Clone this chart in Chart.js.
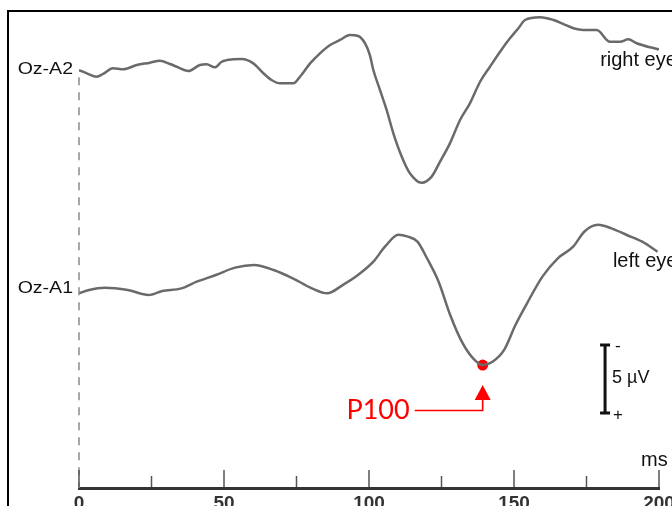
<!DOCTYPE html>
<html><head><meta charset="utf-8">
<script src="https://cdn.jsdelivr.net/npm/chart.js@4.4.0/dist/chart.umd.min.js"></script>
<style>
html,body{margin:0;padding:0;background:#fff;overflow:hidden}
#wrap{position:relative;width:672px;height:506px;overflow:hidden}
#frame{position:absolute;left:7px;top:10px;width:700px;height:520px;border-left:2px solid #000;border-top:2px solid #000;pointer-events:none}
canvas{position:absolute;left:0;top:0}
</style></head><body>
<div id="wrap"><div id="frame"></div><canvas id="c" width="672" height="506"></canvas></div>
<script>
// time axis (ms)
const timeTicks = [0,25,50,75,100,125,150,175,200];
const timeLabels = [0,50,100,150,200];
// Oz-A2 (right eye), µV, negative up
const topTime = [0,2.7,6.1,8.3,11.7,15.2,19.9,24.5,27.9,31.4,33.7,37.7,41.7,44,46.9,49.2,53.2,56.1,60.1,63.6,66.4,69.3,73.9,76.2,79.7,83.1,86.6,90,93.4,96.3,98.6,100.3,101.5,103.8,106.1,108.4,111.3,114.1,118.2,121.6,124.5,127.9,131.4,134.8,138.3,141.7,145.2,148.6,151.5,153.8,159,163.6,167.1,170.5,173.9,178.5,183.1,186.6,189.4,192.3,196.9,200];
const topValues = [-0.16,0.08,0.33,0.13,-0.29,-0.21,-0.53,-0.70,-0.85,-0.60,-0.40,-0.09,-0.53,-0.58,-0.36,-0.77,-0.95,-0.97,-0.65,0.08,0.57,0.82,0.82,0.33,-0.65,-1.39,-2.0,-2.37,-2.74,-2.66,-2.13,-1.26,-0.16,1.31,2.79,4.49,6.21,7.43,8.13,7.68,6.58,5.23,3.51,2.29,0.70,-0.40,-1.51,-2.49,-3.23,-3.84,-4.04,-3.84,-3.54,-3.23,-3.10,-3.10,-2.24,-2.24,-2.42,-2.13,-1.83,-1.68];
// Oz-A1 (left eye)
const bottomTime = [0,3.5,8.8,16.8,24,28.7,35.3,40.6,47.2,53.8,60.4,67.1,73.7,80.3,85.6,90.9,96.2,101.5,105.5,110.1,113.4,116.7,120,124,128,132,135.9,139.2,142.6,146.6,150.5,154.5,159.8,165.1,170.4,174.3,179,183.6,188.9,194.2,199.5];
const bottomValues = [0.10,-0.15,-0.32,-0.15,0.22,-0.07,-0.27,-0.76,-1.25,-1.79,-1.99,-1.62,-1.01,-0.27,0.10,-0.51,-1.25,-2.23,-3.33,-4.21,-4.07,-3.70,-2.48,-0.76,1.69,3.65,4.88,5.37,5.13,4.26,2.43,0.83,-1.13,-2.48,-3.33,-4.45,-4.94,-4.68,-4.19,-3.70,-2.96];
const channelLabels = ['Oz-A2','Oz-A1'];
const eyeLabels = ['right eye','left eye'];
const channelOffsets = [0, 16.16];
const p100Time = [139.2];
const p100Value = [5.37];
const scaleBarTop = 20.06;
const scaleBarSize = 5;

const traceColor = '#6a6a6a';
const mk = (ts, vs, off) => ts.map((t,i)=>({x:t, y:vs[i]+off}));

const overlay = {
  id:'overlay',
  afterDraw(chart){
    const ctx = chart.ctx, xs = chart.scales.x, ys = chart.scales.y, ca = chart.chartArea;
    ctx.save();
    // dashed zero line
    const x0 = xs.getPixelForValue(0);
    ctx.strokeStyle = '#8a8a8a'; ctx.lineWidth = 1.5; ctx.setLineDash([8,7]);
    ctx.beginPath(); ctx.moveTo(x0, ys.getPixelForValue(channelOffsets[0]) + 5); ctx.lineTo(x0, ca.bottom); ctx.stroke();
    ctx.setLineDash([]);
    // inward ticks
    ctx.strokeStyle = '#555'; ctx.lineWidth = 1.5;
    timeTicks.forEach(t=>{
      const x = xs.getPixelForValue(t);
      const len = (t % 50 === 0) ? 18 : 12;
      ctx.beginPath(); ctx.moveTo(x, ca.bottom - 1); ctx.lineTo(x, ca.bottom - len); ctx.stroke();
    });
    // channel labels
    ctx.fillStyle = '#111';
    ctx.font = '16px "Liberation Sans", Arial, sans-serif';
    ctx.textAlign = 'right'; ctx.textBaseline = 'middle';
    channelLabels.forEach((lab,i)=>{
      const y = ys.getPixelForValue(channelOffsets[i]) - 3;
      ctx.save(); ctx.translate(x0 - 6, y); ctx.scale(1.22, 1); ctx.fillText(lab, 0, 0); ctx.restore();
    });
    // eye labels
    ctx.font = '20px "Liberation Sans", Arial, sans-serif';
    ctx.textAlign = 'left'; ctx.textBaseline = 'alphabetic';
    ctx.fillText(eyeLabels[0], xs.getPixelForValue(179.7), ys.getPixelForValue(channelOffsets[0]) - 6);
    ctx.fillText(eyeLabels[1], xs.getPixelForValue(184.1), ys.getPixelForValue(channelOffsets[1]) - 25);
    // ms unit
    ctx.font = '20px "Liberation Sans", Arial, sans-serif';
    ctx.fillText('ms', xs.getPixelForValue(193.8), ca.bottom - 22);
    // scale bar
    const sx = xs.getPixelForValue(181.4);
    const sy1 = ys.getPixelForValue(scaleBarTop), sy2 = ys.getPixelForValue(scaleBarTop + scaleBarSize);
    ctx.strokeStyle = '#111'; ctx.lineWidth = 3;
    ctx.beginPath(); ctx.moveTo(sx, sy1); ctx.lineTo(sx, sy2);
    ctx.moveTo(sx - 5, sy1); ctx.lineTo(sx + 5, sy1);
    ctx.moveTo(sx - 5, sy2); ctx.lineTo(sx + 5, sy2); ctx.stroke();
    ctx.font = '17px "Liberation Sans", Arial, sans-serif';
    ctx.textBaseline = 'middle';
    ctx.fillText('-', sx + 10, sy1 + 1);
    ctx.fillText('+', sx + 8, sy2 + 2);
    ctx.font = '18px "Liberation Sans", Arial, sans-serif';
    ctx.fillText('5 \u00B5V', sx + 7, (sy1 + sy2) / 2 - 1);
    // P100 arrow
    const px = xs.getPixelForValue(p100Time[0]), py = ys.getPixelForValue(p100Value[0] + channelOffsets[1]);
    ctx.fillStyle = '#ff0000'; ctx.strokeStyle = '#ff0000'; ctx.lineWidth = 1.6;
    ctx.beginPath(); ctx.moveTo(px, py + 20); ctx.lineTo(px - 8, py + 35); ctx.lineTo(px + 8, py + 35); ctx.closePath(); ctx.fill();
    ctx.beginPath(); ctx.moveTo(px, py + 34); ctx.lineTo(px, py + 45.5); ctx.lineTo(px - 68, py + 45.5); ctx.stroke();
    ctx.font = '27px Lato, "Liberation Sans", sans-serif';
    ctx.textAlign = 'right'; ctx.textBaseline = 'middle';
    ctx.fillText('P100', px - 73, py + 45);
    ctx.restore();
  }
};

new Chart(document.getElementById('c'), {
  type:'line',
  data:{datasets:[
    {data:mk(topTime, topValues, channelOffsets[0]), borderColor:traceColor, borderWidth:2.5, pointRadius:0, cubicInterpolationMode:'monotone', fill:false},
    {data:mk(bottomTime, bottomValues, channelOffsets[1]), borderColor:traceColor, borderWidth:2.5, pointRadius:0, cubicInterpolationMode:'monotone', fill:false},
    {data:mk(p100Time, p100Value, channelOffsets[1]), showLine:false, pointRadius:5.5, pointBackgroundColor:'#ff0000', pointBorderWidth:0, borderColor:'#ff0000'}
  ]},
  options:{
    responsive:false, animation:false, events:[],
    plugins:{legend:{display:false}, tooltip:{enabled:false}},
    layout:{padding:{left:79, right:13, top:11, bottom:0}},
    scales:{
      x:{type:'linear', min:0, max:200,
        ticks:{stepSize:50, color:'#333', font:{family:'"Liberation Sans", Arial, sans-serif', size:19, weight:'bold'}, padding:4, maxRotation:0, autoSkip:false},
        grid:{display:false, drawTicks:false},
        border:{display:true, color:'#333', width:3},
        afterFit(s){ s.height = 18; s.paddingLeft = 0; s.paddingRight = 0; }
      },
      y:{display:false, reverse:true, min:-4.5, max:30.57}
    }
  },
  plugins:[overlay]
});
</script>
</body></html>
